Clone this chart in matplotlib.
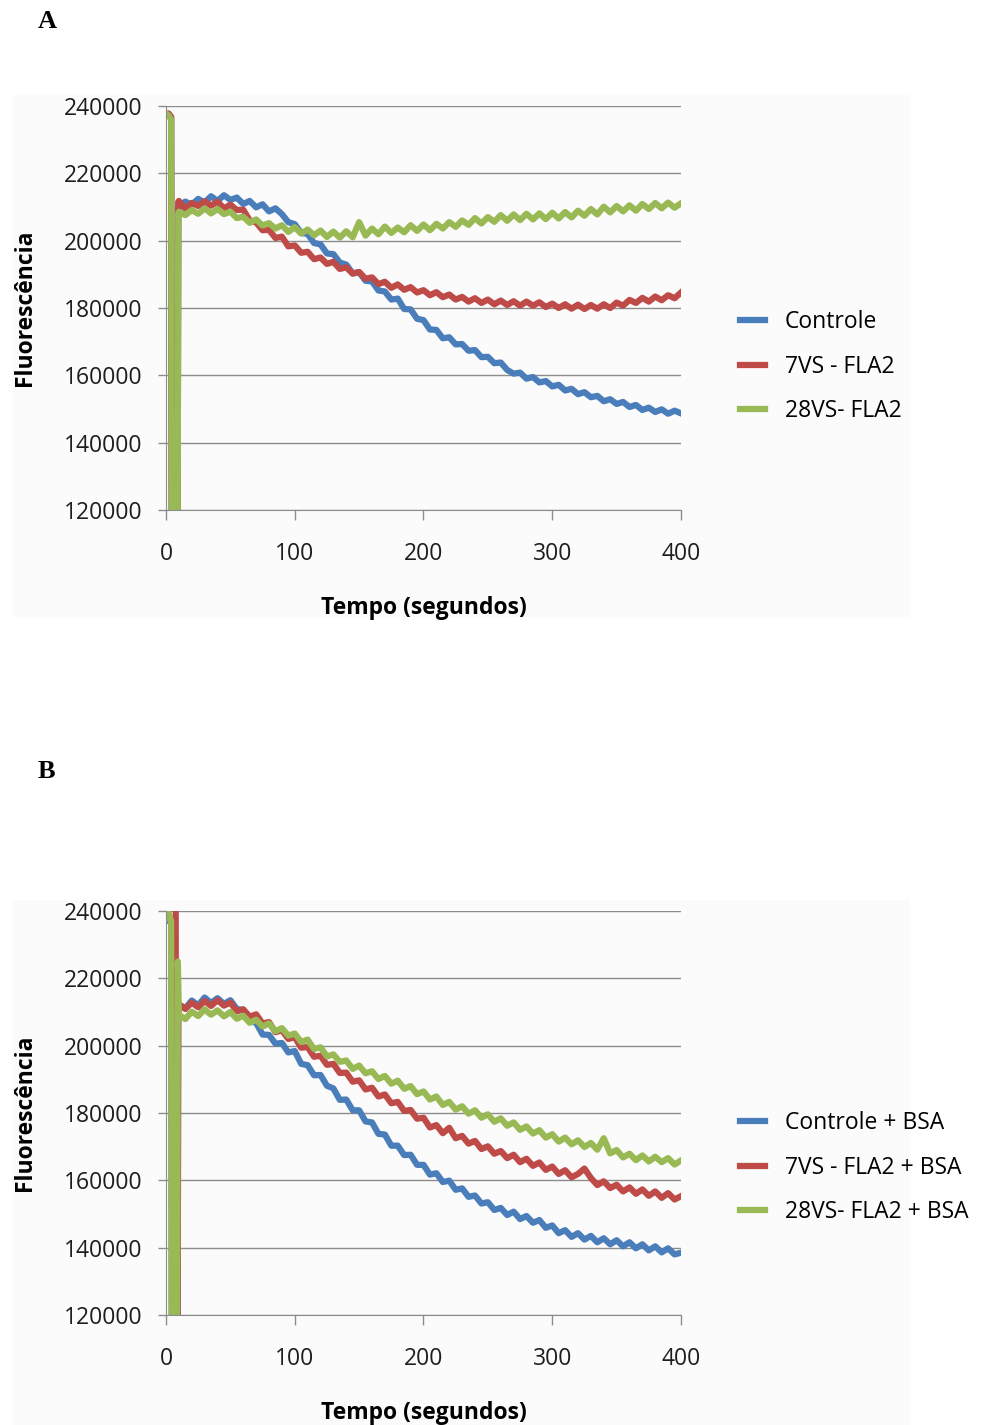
import numpy as np
import matplotlib
matplotlib.use('Agg')
import matplotlib.pyplot as plt
from matplotlib.patches import Rectangle

# colours of the old Excel series
BLUE = '#4a7ebb'
RED = '#be4b48'
GREEN = '#98b954'

# main part of every curve is sampled every 5 s from 10 s to 400 s
t_main = np.arange(10, 401, 5)

# panel A: injection spike at the start (time, value)
a_start_t = [0, 2, 4, 4.5, 9, 9.5]
a_blue_start = [237000, 237500, 236500, 100000, 100000, 210000]
a_red_start = [237500, 237800, 236800, 100000, 100000, 211500]
a_green_start = [237800, 237200, 236000, 100000, 100000, 208000]

a_blue = [
    209800, 211600, 210700, 212400, 211300, 213200, 211800, 213500, 212100, 212800,
    210900, 211800, 209900, 210800, 208700, 209600, 207900, 205500, 204900, 202300,
    202000, 199300, 198900, 196200, 196000, 193500, 192900, 190300, 190600, 188100,
    187900, 185200, 184900, 182500, 182800, 179700, 179600, 176800, 176400, 173600,
    173500, 171000, 171300, 169200, 169300, 167300, 167500, 165400, 165500, 163600,
    163800, 161600, 160500, 160800, 159000, 159500, 157900, 158300, 156700, 157200,
    155500, 156000, 154400, 155000, 153500, 153900, 152300, 152900, 151500, 152100,
    150600, 151200, 149700, 150400, 149100, 149900, 148600, 149500, 148700,
]
a_red = [
    211800, 209500, 211200, 210300, 211700, 210400, 211600, 209600, 210700, 209100,
    209200, 206000, 205400, 203100, 203200, 200800, 201200, 198300, 198600, 196400,
    196700, 194500, 195000, 193100, 193700, 191600, 192100, 190200, 190700, 188700,
    189100, 187100, 187800, 186000, 187000, 185400, 186200, 184600, 185300, 183800,
    184700, 183200, 184000, 182500, 183300, 181900, 182900, 181500, 182500, 181100,
    182200, 180900, 182000, 180700, 181900, 180700, 181700, 180300, 181300, 180000,
    181100, 179800, 181000, 179700, 180900, 179800, 181100, 180000, 181600, 180700,
    182400, 181500, 183000, 181900, 183400, 182300, 183800, 182900, 184600,
]
a_green = [
    208600, 207600, 209100, 208000, 209600, 208100, 209400, 207900, 208600, 206700,
    207100, 205300, 206300, 204500, 205200, 203600, 204600, 202600, 204000, 202100,
    203300, 201600, 203000, 201100, 202700, 200900, 202800, 201000, 205500, 201500,
    203600, 201900, 204200, 202300, 203900, 202500, 204600, 202900, 204800, 203100,
    205000, 203600, 205500, 204100, 206000, 204700, 206700, 205100, 207000, 205600,
    207600, 205900, 207800, 206100, 208000, 206300, 208100, 206400, 208300, 206600,
    208500, 206900, 208900, 207400, 209400, 207800, 210100, 208400, 210300, 208700,
    210500, 208900, 210900, 209400, 211200, 209600, 211300, 209800, 211100,
]

# panel B: injection spike at the start
b_blue_start_t = [0, 2, 4, 4.5, 9, 9.5]
b_blue_start = [237000, 237500, 237000, 100000, 100000, 211500]
b_red_start_t = [0, 7.5, 8, 9, 9.5]
b_red_start = [250000, 250000, 100000, 100000, 211800]
b_green_start_t = [0, 2, 4, 4.5, 8.5, 9.2]
b_green_start = [238000, 239300, 237000, 100000, 100000, 225000]

b_blue = [
    212200, 211100, 213400, 212000, 214300, 212700, 214100, 212400, 213500, 210900,
    210600, 207300, 206800, 203300, 203200, 200600, 200800, 198000, 198400, 194600,
    194200, 191200, 191300, 188100, 187300, 183900, 184000, 180800, 180800, 177500,
    177200, 173800, 173600, 170300, 170300, 167500, 167600, 164600, 164600, 161700,
    162100, 159500, 159900, 157200, 157600, 155100, 155500, 153100, 153500, 151200,
    151800, 149700, 150700, 148500, 149400, 147400, 148200, 145900, 146600, 144300,
    145200, 143200, 144300, 142400, 143500, 141600, 142800, 141000, 142200, 140400,
    141600, 139800, 141000, 139200, 140400, 138600, 139800, 138000, 138500,
]
b_red = [
    212300, 210900, 212800, 211400, 213300, 211800, 213500, 211900, 212800, 210200,
    210800, 208600, 209300, 206600, 207000, 204000, 204600, 202000, 202500, 199400,
    199600, 196700, 197000, 194300, 194600, 191900, 192000, 189300, 189700, 187000,
    187500, 184900, 185500, 182900, 183300, 180600, 180900, 178300, 178600, 175700,
    176400, 174000, 175600, 172500, 173200, 170900, 171700, 169300, 170100, 167900,
    168700, 166600, 167600, 165400, 166400, 164300, 165300, 163100, 164100, 161900,
    163000, 160900, 161900, 163500, 160700, 158600, 159700, 157700, 158700, 156700,
    157900, 156000, 157300, 155400, 156700, 154800, 156200, 154300, 155300,
]
b_green = [
    209200, 207900, 210100, 208800, 210800, 209200, 210500, 208700, 210000, 208000,
    208900, 206800, 207700, 205700, 206600, 204300, 205200, 203000, 203600, 201100,
    201800, 199000, 199500, 196800, 197400, 195200, 195600, 193100, 194100, 191800,
    192400, 190100, 191000, 188700, 189600, 187200, 188000, 185600, 186400, 184000,
    184900, 182400, 183300, 181000, 182000, 179800, 180800, 178600, 179600, 177400,
    178400, 176200, 177200, 175000, 176000, 173900, 174900, 172700, 173700, 171500,
    172700, 170700, 171900, 169900, 171100, 169100, 172500, 168000, 169000, 166800,
    167900, 166000, 167400, 165600, 167000, 165400, 166600, 164700, 165900,
]

labels_a = ['Controle', '7VS - FLA2', '28VS- FLA2']
labels_b = ['Controle + BSA', '7VS - FLA2 + BSA', '28VS- FLA2 + BSA']

y_ticks = [120000, 140000, 160000, 180000, 200000, 220000, 240000]
x_ticks = [0, 100, 200, 300, 400]

plt.rcParams['font.family'] = ['Open Sans', 'DejaVu Sans']

W, H = 987, 1425
FS = 16.5
fig = plt.figure(figsize=(W / 100, H / 100), dpi=100)

# faint Excel chart areas, kept behind the axes
for top, bottom in [(95, 617), (900, 1425)]:
    fig.patches.append(Rectangle((12 / W, 1 - bottom / H), (910 - 12) / W,
                                 (bottom - top) / H, transform=fig.transFigure,
                                 facecolor='#fbfbfb', edgecolor='none', zorder=-5))


def draw_panel(rect, series, labels, legend_top):
    ax = fig.add_axes(rect)
    ax.set_facecolor('none')
    for (t, y), c, lab in zip(series, [BLUE, RED, GREEN], labels):
        ax.plot(t, y, color=c, lw=4.5, label=lab, solid_joinstyle='round')
    ax.set_xlim(0, 400)
    ax.set_ylim(120000, 240000)
    ax.set_xticks(x_ticks)
    ax.set_yticks(y_ticks)
    ax.set_yticklabels([str(v) for v in y_ticks])
    ax.grid(axis='y', color='#8c8c8c', lw=1)
    ax.set_axisbelow(True)
    for s in ['top', 'right']:
        ax.spines[s].set_visible(False)
    for s in ['left', 'bottom']:
        ax.spines[s].set_color('#8c8c8c')
    ax.tick_params(axis='y', length=6, width=1, color='#8c8c8c', pad=11,
                   labelsize=FS, labelcolor='#1e1e1e')
    ax.tick_params(axis='x', length=7, width=1, color='#8c8c8c', pad=16,
                   labelsize=FS, labelcolor='#1e1e1e')
    ax.set_xlabel('Tempo (segundos)', fontsize=FS, fontweight='bold')
    ax.xaxis.set_label_coords(0.5, -0.212)
    ax.set_ylabel('Fluorescência', fontsize=FS, fontweight='bold')
    ax.yaxis.set_label_coords(-0.25, 0.5)
    ax.legend(loc='upper left', bbox_to_anchor=(740 / W, 1 - legend_top / H),
              bbox_transform=fig.transFigure, frameon=False, fontsize=FS,
              handlelength=1.1, handletextpad=0.85, labelspacing=0.9,
              borderpad=0, borderaxespad=0)
    return ax


ax_a = draw_panel(
    [166 / W, 1 - 510 / H, 515 / W, 404 / H],
    [(np.concatenate([a_start_t, t_main]), np.concatenate([a_blue_start, a_blue])),
     (np.concatenate([a_start_t, t_main]), np.concatenate([a_red_start, a_red])),
     (np.concatenate([a_start_t, t_main]), np.concatenate([a_green_start, a_green]))],
    labels_a, 310)

ax_b = draw_panel(
    [166 / W, 1 - 1315 / H, 515 / W, 404 / H],
    [(np.concatenate([b_blue_start_t, t_main]), np.concatenate([b_blue_start, b_blue])),
     (np.concatenate([b_red_start_t, t_main]), np.concatenate([b_red_start, b_red])),
     (np.concatenate([b_green_start_t, t_main]), np.concatenate([b_green_start, b_green]))],
    labels_b, 1111)

fig.text(38 / W, 1 - 28 / H, 'A', fontsize=19, fontweight='bold',
         family='Liberation Serif', va='baseline')
fig.text(38 / W, 1 - 778 / H, 'B', fontsize=19, fontweight='bold',
         family='Liberation Serif', va='baseline')

fig.savefig('out.png', dpi=100)
